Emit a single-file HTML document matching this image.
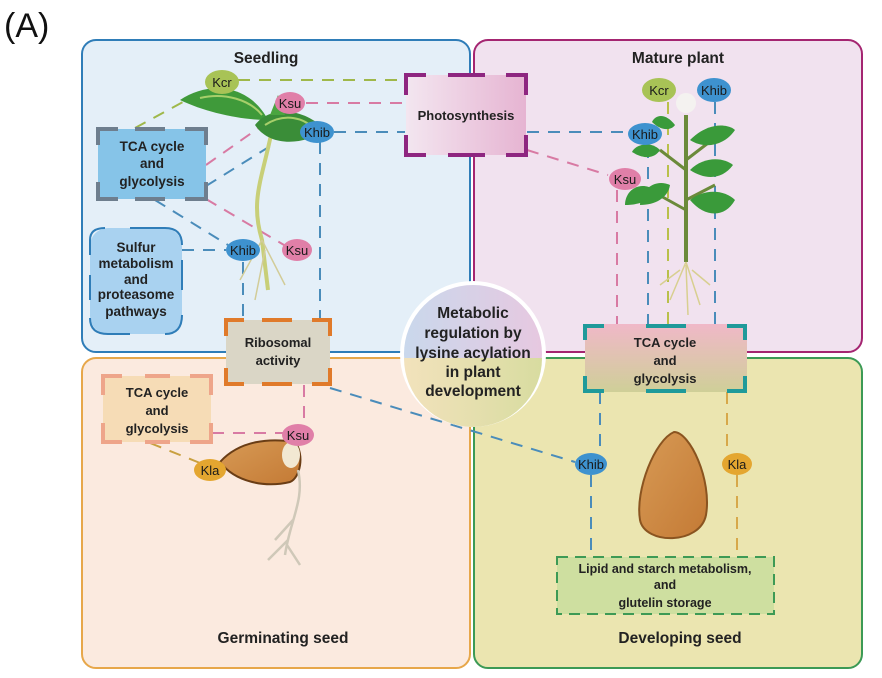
<!DOCTYPE html>
<html><head><meta charset="utf-8"><style>
html,body{margin:0;padding:0;background:#fff;}
svg{display:block;font-family:"Liberation Sans",Arial,sans-serif;}
.t{font-weight:bold;fill:#222;text-anchor:middle;}
.b{font-size:13px;fill:#1a1a1a;text-anchor:middle;}
</style></head><body>
<svg width="882" height="678" viewBox="0 0 882 678" xmlns="http://www.w3.org/2000/svg">
<defs>
<linearGradient id="cg" x1="0" y1="0" x2="1" y2="0"><stop offset="0" stop-color="#c9d8ec"/><stop offset="1" stop-color="#e7c8e0"/></linearGradient>
<linearGradient id="cg2" x1="0" y1="0" x2="1" y2="0"><stop offset="0" stop-color="#f2e2bc"/><stop offset="1" stop-color="#d8dca0"/></linearGradient>
<linearGradient id="ph" x1="0" y1="0" x2="1" y2="0"><stop offset="0" stop-color="#f3e6f0"/><stop offset="1" stop-color="#e6b4d2"/></linearGradient>
<linearGradient id="tc" x1="0" y1="0" x2="0" y2="1"><stop offset="0" stop-color="#f0b8c8"/><stop offset="1" stop-color="#cfcf98"/></linearGradient>
<linearGradient id="seed" x1="0" y1="0" x2="1" y2="1"><stop offset="0" stop-color="#d79a55"/><stop offset="1" stop-color="#c47a35"/></linearGradient>
</defs>
<text x="4" y="37" font-size="34" fill="#111">(A)</text>

<rect x="82" y="40" width="388" height="312" rx="14" fill="#e4eff8" stroke="#2f7db8" stroke-width="2"/>
<rect x="474" y="40" width="388" height="312" rx="14" fill="#f1e2ef" stroke="#a42571" stroke-width="2"/>
<rect x="82" y="358" width="388" height="310" rx="14" fill="#fbeadf" stroke="#e7a74a" stroke-width="2"/>
<rect x="474" y="358" width="388" height="310" rx="14" fill="#ebe5b0" stroke="#3c9a55" stroke-width="2"/>

<text class="t" x="266" y="63" font-size="15.5">Seedling</text>
<text class="t" x="678" y="63" font-size="15.5">Mature plant</text>
<text class="t" x="283" y="643" font-size="15.5">Germinating seed</text>
<text class="t" x="680" y="643" font-size="15.5">Developing  seed</text>

<g fill="none" stroke-width="2" stroke-dasharray="12,9">
<path d="M238 80 H410" stroke="#9fb84a"/>
<path d="M306 103 H405" stroke="#d87aa3"/>
<path d="M334 132 H405" stroke="#4a8cba"/>
<path d="M135 128 L205 90" stroke="#9fb84a"/>
<path d="M206 165 L270 120" stroke="#d87aa3"/>
<path d="M206 186 L272 145" stroke="#4a8cba"/>
<path d="M206 199 L284 245" stroke="#d87aa3"/>
<path d="M155 200 L228 245" stroke="#4a8cba"/>
<path d="M182 250 H226" stroke="#4a8cba"/>
<path d="M320 142 V320" stroke="#4a8cba"/>
<path d="M243 262 V320" stroke="#4a8cba"/>
<path d="M527 132 H628" stroke="#4a8cba"/>
<path d="M527 150 L608 175" stroke="#d87aa3"/>
<path d="M617 190 V325" stroke="#d87aa3"/>
<path d="M648 146 V325" stroke="#4a8cba"/>
<path d="M668 102 V325" stroke="#b9c04a"/>
<path d="M715 102 V325" stroke="#4a8cba"/>
<path d="M304 385 V425" stroke="#d87aa3"/>
<path d="M212 433 H283" stroke="#d87aa3"/>
<path d="M150 443 L200 463" stroke="#c9a040"/>
<path d="M330 388 L575 462" stroke="#4a8cba"/>
<path d="M600 392 V455" stroke="#4a8cba"/>
<path d="M591 475 V557" stroke="#4a8cba"/>
<path d="M727 392 V455" stroke="#d7a84a"/>
<path d="M737 475 V557" stroke="#d7a84a"/>
</g>

<path d="M272 130 C262 180 250 200 262 240 L268 290" stroke="#c8cf78" stroke-width="4" fill="none"/>
<path d="M180 100 C210 80 250 85 268 120 C240 120 205 112 180 100Z" fill="#3f9a3a"/>
<path d="M200 98 C225 92 250 100 262 115" stroke="#a7cf6a" stroke-width="2" fill="none"/>
<path d="M255 125 C270 105 305 108 325 130 C305 145 270 148 255 125Z" fill="#3a8d38"/>
<path d="M265 125 C285 112 305 118 315 130" stroke="#a7cf6a" stroke-width="2" fill="none"/>
<path d="M270 115 L278 95 L285 115Z" fill="#4aa540"/>
<path d="M262 240 L240 280 M262 240 L285 285 M265 250 L255 300" stroke="#d2cc98" stroke-width="1.5" fill="none"/>

<path d="M686 115 V262" stroke="#6b8a3a" stroke-width="4"/>
<path d="M686 170 L660 150 M686 210 L650 190 M686 200 L715 185 M686 160 L712 140" stroke="#6b8a3a" stroke-width="3"/>
<g fill="#3a9a3a">
<path d="M660 150 C650 140 635 145 632 152 C645 160 655 158 660 150Z"/>
<path d="M655 190 C640 180 625 190 625 205 C640 205 652 200 655 190Z"/>
<path d="M670 185 C655 178 640 190 640 205 C655 205 668 198 670 185Z"/>
<path d="M690 140 C710 120 730 125 735 130 C725 145 705 150 690 140Z"/>
<path d="M690 170 C705 155 725 158 733 165 C722 180 705 180 690 170Z"/>
<path d="M690 200 C705 188 725 190 735 200 C725 218 705 218 690 200Z"/>
<path d="M675 125 C665 112 655 115 652 122 C662 132 672 130 675 125Z"/>
</g>
<circle cx="686" cy="103" r="10" fill="#f4f2f0"/>
<path d="M686 262 L670 300 M686 262 L700 305 M686 265 L688 315 M680 270 L660 285 M692 270 L710 285" stroke="#d8cf90" stroke-width="1.5" fill="none"/>

<rect x="406" y="75" width="120" height="80" fill="url(#ph)"/>
<path d="M406 95 V75 H426 M448 75 H485 M506 75 H526 V95 M526 135 V155 H506 M485 155 H448 M426 155 H406 V135" fill="none" stroke="#8e2680" stroke-width="4"/>
<text class="t" x="466" y="120" font-size="13">Photosynthesis</text>

<rect x="98" y="129" width="108" height="70" fill="#86c4e8"/>
<path d="M98 145 V129 H118 M135 129 H165 M185 129 H206 V145 M206 182 V199 H185 M165 199 H135 M118 199 H98 V182" fill="none" stroke="#6e7e8e" stroke-width="4"/>
<text class="t" x="152" y="151" font-size="13.5">TCA cycle</text>
<text class="t" x="152" y="168" font-size="13.5">and</text>
<text class="t" x="152" y="186" font-size="13.5">glycolysis</text>

<rect x="90" y="228" width="92" height="106" rx="18" fill="#a9d2f0"/>
<path d="M90 255 V240 Q90 228 105 228 M130 228 H165 Q182 228 182 245 M182 260 V290 M182 315 Q182 334 165 334 M130 334 H108 Q90 334 90 318 M90 300 V275" fill="none" stroke="#2f7db8" stroke-width="2"/>
<text class="t" x="136" y="252" font-size="13.5">Sulfur</text>
<text class="t" x="136" y="268" font-size="13.5">metabolism</text>
<text class="t" x="136" y="284" font-size="13.5">and</text>
<text class="t" x="136" y="299" font-size="13.5">proteasome</text>
<text class="t" x="136" y="316" font-size="13.5">pathways</text>

<rect x="226" y="320" width="104" height="64" fill="#dad6c6"/>
<path d="M226 336 V320 H244 M262 320 H292 M312 320 H330 V336 M330 368 V384 H312 M292 384 H262 M244 384 H226 V368" fill="none" stroke="#e07a2a" stroke-width="4"/>
<text class="t" x="278" y="347" font-size="13">Ribosomal</text>
<text class="t" x="278" y="365" font-size="13">activity</text>

<rect x="103" y="376" width="108" height="66" fill="#f6dcb6"/>
<path d="M103 395 V376 H122 M145 376 H170 M190 376 H211 V395 M211 423 V442 H190 M170 442 H145 M122 442 H103 V423" fill="none" stroke="#eea58a" stroke-width="4"/>
<text class="t" x="157" y="397" font-size="13">TCA cycle</text>
<text class="t" x="157" y="415" font-size="13">and</text>
<text class="t" x="157" y="433" font-size="13">glycolysis</text>

<rect x="585" y="324" width="162" height="68" fill="url(#tc)"/>
<path d="M585 340 V326 H604 M646 326 H686 M727 326 H745 V340 M745 376 V391 H727 M686 391 H646 M604 391 H585 V376" fill="none" stroke="#1f9a9a" stroke-width="4"/>
<text class="t" x="665" y="347" font-size="13">TCA cycle</text>
<text class="t" x="665" y="365" font-size="13">and</text>
<text class="t" x="665" y="383" font-size="13">glycolysis</text>

<rect x="557" y="557" width="217" height="57" fill="#cedfa0"/>
<rect x="557" y="557" width="217" height="57" fill="none" stroke="#3d9a55" stroke-width="2" stroke-dasharray="11,7"/>
<text class="t" x="665" y="573" font-size="12.5">Lipid and starch metabolism,</text>
<text class="t" x="665" y="589" font-size="12.5">and</text>
<text class="t" x="665" y="607" font-size="12.5">glutelin storage</text>

<path d="M220 462 C240 440 270 438 295 442 C305 455 300 478 290 482 C265 488 235 482 220 462Z" fill="url(#seed)" stroke="#6a3d15" stroke-width="2"/>
<ellipse cx="291" cy="455" rx="9" ry="13" fill="#f2e8d2"/>
<path d="M298 470 C305 500 290 520 285 555 M293 520 L275 540 M288 540 L268 560 M287 545 L300 565" stroke="#cfc8b8" stroke-width="2.5" fill="none"/>
<path d="M674 432 C655 440 635 490 640 520 C645 545 700 545 706 515 C712 480 690 432 674 432Z" fill="url(#seed)" stroke="#8a5420" stroke-width="2"/>

<circle cx="473" cy="354" r="71" fill="url(#cg)" stroke="#fff" stroke-width="4"/>
<path d="M404 358 A69 69 0 0 0 542 358Z" fill="url(#cg2)"/>
<text class="t" x="473" y="318" font-size="15.5">Metabolic</text>
<text class="t" x="473" y="338" font-size="15.5">regulation by</text>
<text class="t" x="473" y="358" font-size="15.5">lysine acylation</text>
<text class="t" x="473" y="377" font-size="15.5">in plant</text>
<text class="t" x="473" y="396" font-size="15.5">development</text>

<g>
<ellipse cx="222" cy="82" rx="17" ry="12" fill="#a8c356"/><text class="b" x="222" y="87">Kcr</text>
<ellipse cx="290" cy="103" rx="15" ry="11" fill="#e07fa8"/><text class="b" x="290" y="108">Ksu</text>
<ellipse cx="317" cy="132" rx="17" ry="11" fill="#3e92cf"/><text class="b" x="317" y="137">Khib</text>
<ellipse cx="243" cy="250" rx="17" ry="11" fill="#3e92cf"/><text class="b" x="243" y="255">Khib</text>
<ellipse cx="297" cy="250" rx="15" ry="11" fill="#e07fa8"/><text class="b" x="297" y="255">Ksu</text>
<ellipse cx="659" cy="90" rx="17" ry="12" fill="#a8c356"/><text class="b" x="659" y="95">Kcr</text>
<ellipse cx="714" cy="90" rx="17" ry="12" fill="#3e92cf"/><text class="b" x="714" y="95">Khib</text>
<ellipse cx="645" cy="134" rx="17" ry="11" fill="#3e92cf"/><text class="b" x="645" y="139">Khib</text>
<ellipse cx="625" cy="179" rx="16" ry="11" fill="#e07fa8"/><text class="b" x="625" y="184">Ksu</text>
<ellipse cx="298" cy="435" rx="16" ry="11" fill="#e07fa8"/><text class="b" x="298" y="440">Ksu</text>
<ellipse cx="210" cy="470" rx="16" ry="11" fill="#e4a630"/><text class="b" x="210" y="475">Kla</text>
<ellipse cx="591" cy="464" rx="16" ry="11" fill="#3e92cf"/><text class="b" x="591" y="469" font-size="12">Khib</text>
<ellipse cx="737" cy="464" rx="15" ry="11" fill="#e4a630"/><text class="b" x="737" y="469">Kla</text>
</g>
</svg>
</body></html>
